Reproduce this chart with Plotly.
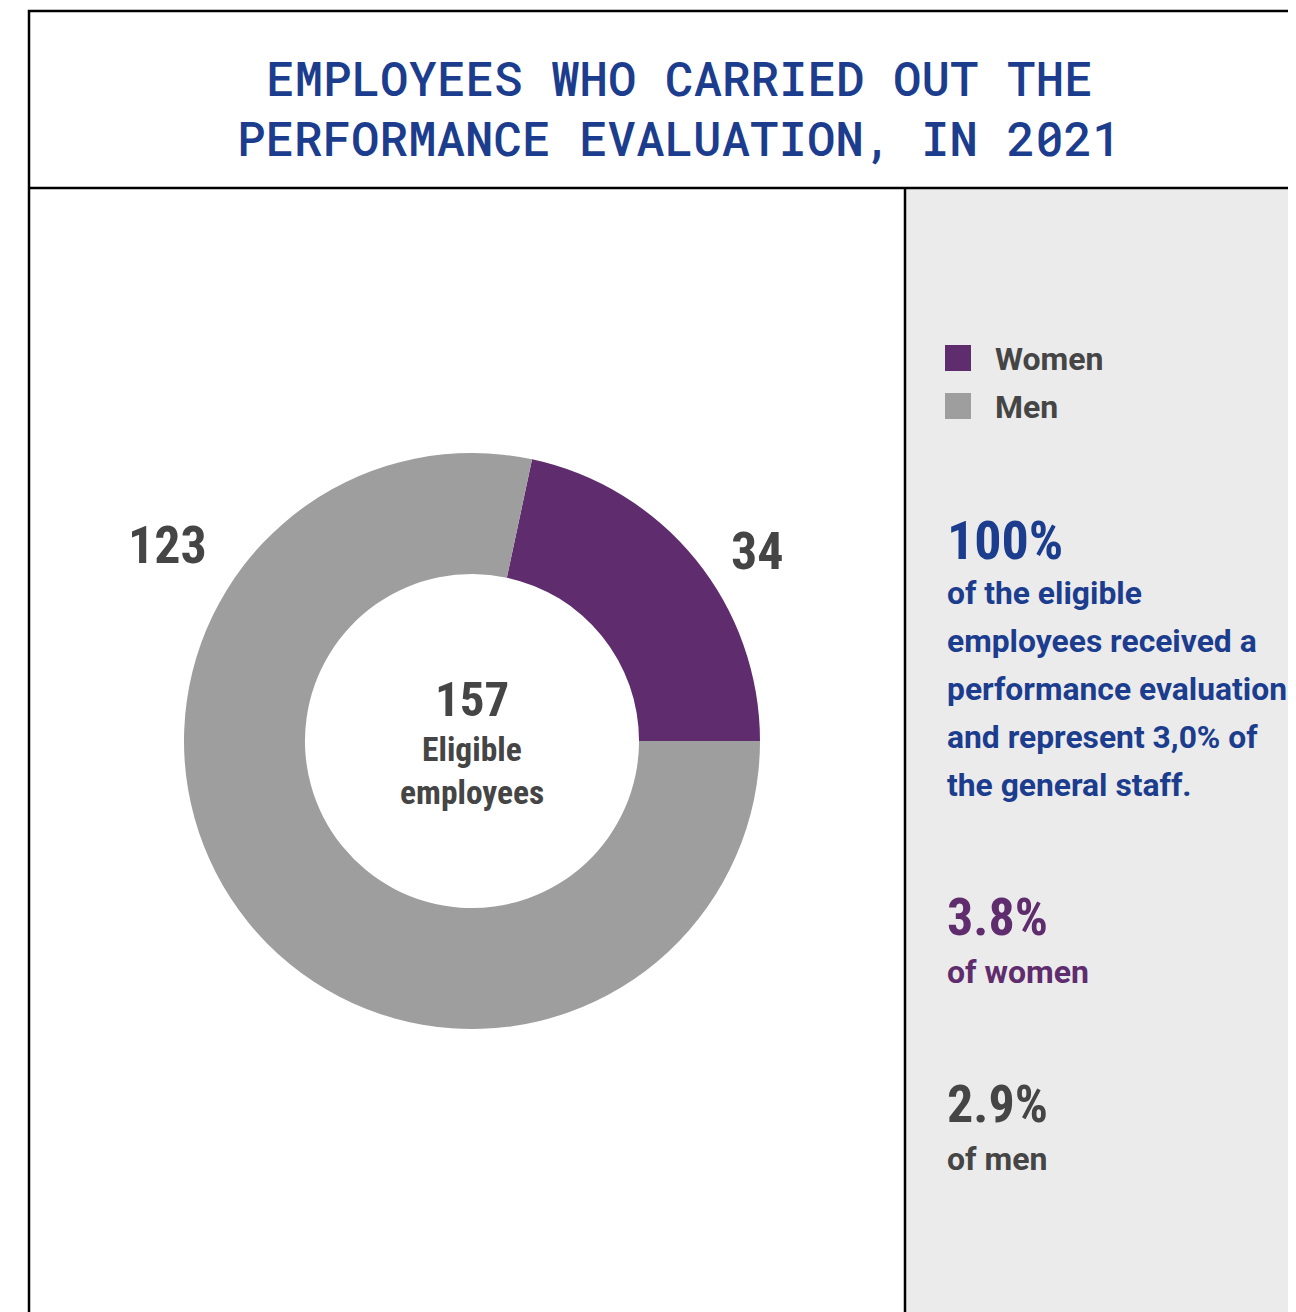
import plotly.graph_objects as go

W, H = 1296, 1312

labels = ["Women", "Men"]
values = [34, 123]
colors = ["#5f2c6e", "#9e9e9e"]
total_label = ["Eligible", "employees"]
title_lines = ["EMPLOYEES WHO CARRIED OUT THE", "PERFORMANCE EVALUATION, IN 2021"]
summary_pct = "100%"
summary_lines = ["of the eligible", "employees received a", "performance evaluation",
                 "and represent 3,0% of", "the general staff."]
women_pct = "3.8%"
men_pct = "2.9%"

BLUE = "#1c3d8e"
DARK = "#454545"
BG_PANEL = "#ebebeb"
NUM_FONT = "Roboto Condensed, Liberation Sans Narrow, Roboto"

# page body adds an 8px offset, so shift positions back
OFF = 8


def px(x):
    return (x - OFF) / W


def py(y):
    return 1 - (y - OFF) / H


fig = go.Figure()

# women slice runs from 3 o'clock up towards 12 o'clock
start = 90 - 360 * values[0] / sum(values)

fig.add_trace(go.Pie(
    labels=labels,
    values=values,
    hole=0.58,
    sort=False,
    direction="clockwise",
    rotation=start,
    marker=dict(colors=colors, line=dict(width=0)),
    textinfo="none",
    hoverinfo="label+value",
    showlegend=False,
    domain=dict(x=[px(184), px(760)], y=[py(1029), py(453)]),
))

shapes = [
    # grey side panel
    dict(type="rect", xref="paper", yref="paper", x0=px(905), x1=px(1330), y0=py(1340), y1=py(188),
         fillcolor=BG_PANEL, line=dict(width=0), layer="below"),
    # outer box
    dict(type="rect", xref="paper", yref="paper", x0=px(29), x1=px(1340), y0=py(1350), y1=py(11),
         line=dict(color="black", width=2.5)),
    # title separator
    dict(type="line", xref="paper", yref="paper", x0=px(29), x1=px(1340), y0=py(188), y1=py(188),
         line=dict(color="black", width=2.5)),
    # vertical divider
    dict(type="line", xref="paper", yref="paper", x0=px(905), x1=px(905), y0=py(188), y1=py(1350),
         line=dict(color="black", width=2.5)),
]

ann = []

def add_text(text, x, y, size, color, family="Roboto", xanchor="left", weight="bold"):
    ann.append(dict(text=text, x=px(x), y=py(y), xref="paper", yref="paper",
                    xanchor=xanchor, yanchor="middle", showarrow=False,
                    font=dict(family=family, size=size, color=color, weight=weight)))

# title
for i, line in enumerate(title_lines):
    add_text(line, 679, 77 + i * 60, 47.5, BLUE, family="Roboto Mono, DejaVu Sans Mono, monospace",
             xanchor="center", weight=500)

# outside slice values
add_text(str(values[1]), 167, 545, 52, DARK, family=NUM_FONT, xanchor="center")
add_text(str(values[0]), 757, 552, 52, DARK, family=NUM_FONT, xanchor="center")

# center
add_text(str(sum(values)), 472, 699, 49, DARK, family=NUM_FONT, xanchor="center")
add_text(total_label[0], 472, 749, 33.5, DARK, family=NUM_FONT, xanchor="center")
add_text(total_label[1], 472, 792, 33.5, DARK, family=NUM_FONT, xanchor="center")

# legend
for i, (lab, col) in enumerate(zip(labels, colors)):
    yc = 358 + i * 48
    shapes.append(dict(type="rect", xref="paper", yref="paper",
                       x0=px(945), x1=px(971), y0=py(yc + 13), y1=py(yc - 13),
                       fillcolor=col, line=dict(width=0)))
    add_text(lab, 993, yc + 1, 32, DARK)

# right panel texts
add_text(summary_pct, 945, 540, 54, BLUE, family=NUM_FONT)
for i, line in enumerate(summary_lines):
    add_text(line, 945, 593 + i * 48, 31.8, BLUE)

add_text(women_pct, 945, 917, 52, colors[0], family=NUM_FONT)
add_text("of women", 945, 972, 32, colors[0])

add_text(men_pct, 945, 1104, 52, DARK, family=NUM_FONT)
add_text("of men", 945, 1159, 32, DARK)

fig.update_layout(
    width=W,
    height=H,
    margin=dict(l=0, r=0, t=0, b=0),
    paper_bgcolor="white",
    plot_bgcolor="white",
    shapes=shapes,
    annotations=ann,
    showlegend=False,
)

fig.write_html("out.html")
